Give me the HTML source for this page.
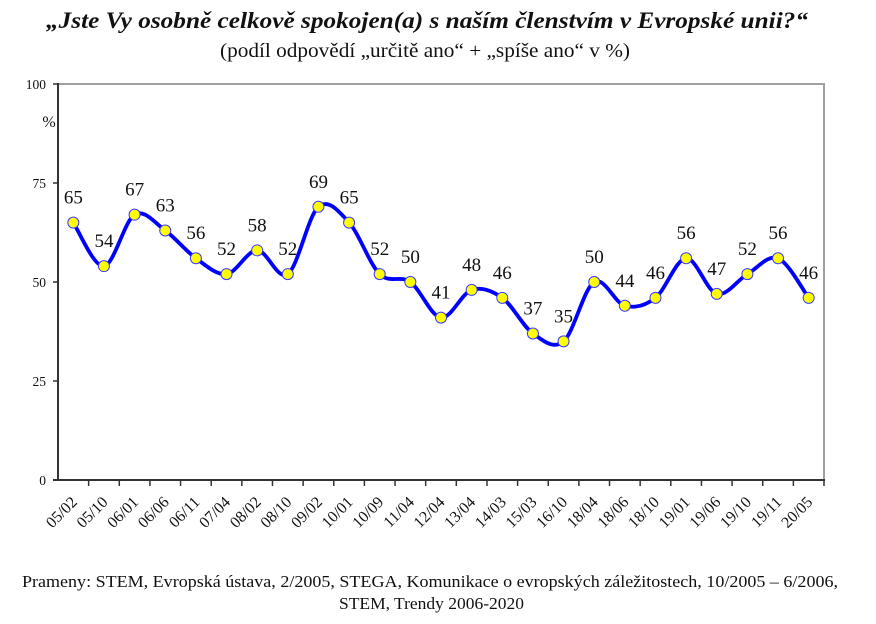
<!DOCTYPE html>
<html>
<head>
<meta charset="utf-8">
<style>
html,body{margin:0;padding:0;background:#fff;}
svg{display:block;}
text{font-family:"Liberation Serif","Times New Roman",serif;fill:#111;}
</style>
</head>
<body>
<svg width="876" height="624" viewBox="0 0 876 624" xmlns="http://www.w3.org/2000/svg">
<rect x="0" y="0" width="876" height="624" fill="#fff"/>
<!-- Title -->
<text x="46" y="28" font-size="23" font-weight="bold" font-style="italic" textLength="762" lengthAdjust="spacingAndGlyphs">„Jste Vy osobně celkově spokojen(a) s naším členstvím v Evropské unii?“</text>
<text x="220" y="57" font-size="20" textLength="410" lengthAdjust="spacingAndGlyphs">(podíl odpovědí „určitě ano“ + „spíše ano“ v %)</text>

<!-- Plot frame -->
<polyline points="58,84 824,84 824,480" fill="none" stroke="#a0a0a0" stroke-width="2"/>
<line x1="58" y1="83" x2="58" y2="481" stroke="#333" stroke-width="2"/>
<line x1="53" y1="480" x2="825" y2="480" stroke="#333" stroke-width="2"/>

<!-- Y ticks -->
<g stroke="#333" stroke-width="1.5">
<line x1="53" y1="84" x2="58" y2="84"/>
<line x1="53" y1="183" x2="58" y2="183"/>
<line x1="53" y1="282" x2="58" y2="282"/>
<line x1="53" y1="381" x2="58" y2="381"/>
</g>
<g font-size="13.5" text-anchor="end">
<text x="46" y="89">100</text>
<text x="46" y="188">75</text>
<text x="46" y="287">50</text>
<text x="46" y="386">25</text>
<text x="46" y="485">0</text>
</g>
<text x="49" y="127" font-size="16" text-anchor="middle">%</text>

<!-- X ticks -->
<g stroke="#333" stroke-width="1.5">
<line x1="88.64" y1="480" x2="88.64" y2="486"/>
<line x1="119.28" y1="480" x2="119.28" y2="486"/>
<line x1="149.92" y1="480" x2="149.92" y2="486"/>
<line x1="180.56" y1="480" x2="180.56" y2="486"/>
<line x1="211.2" y1="480" x2="211.2" y2="486"/>
<line x1="241.84" y1="480" x2="241.84" y2="486"/>
<line x1="272.48" y1="480" x2="272.48" y2="486"/>
<line x1="303.12" y1="480" x2="303.12" y2="486"/>
<line x1="333.76" y1="480" x2="333.76" y2="486"/>
<line x1="364.4" y1="480" x2="364.4" y2="486"/>
<line x1="395.04" y1="480" x2="395.04" y2="486"/>
<line x1="425.68" y1="480" x2="425.68" y2="486"/>
<line x1="456.32" y1="480" x2="456.32" y2="486"/>
<line x1="486.96" y1="480" x2="486.96" y2="486"/>
<line x1="517.6" y1="480" x2="517.6" y2="486"/>
<line x1="548.24" y1="480" x2="548.24" y2="486"/>
<line x1="578.88" y1="480" x2="578.88" y2="486"/>
<line x1="609.52" y1="480" x2="609.52" y2="486"/>
<line x1="640.16" y1="480" x2="640.16" y2="486"/>
<line x1="670.8" y1="480" x2="670.8" y2="486"/>
<line x1="701.44" y1="480" x2="701.44" y2="486"/>
<line x1="732.08" y1="480" x2="732.08" y2="486"/>
<line x1="762.72" y1="480" x2="762.72" y2="486"/>
<line x1="793.36" y1="480" x2="793.36" y2="486"/>
<line x1="824" y1="480" x2="824" y2="486"/>
</g>

<!-- X labels -->
<g font-size="16" text-anchor="end">
<text transform="translate(78.0,503) rotate(-45)">05/02</text>
<text transform="translate(108.7,503) rotate(-45)">05/10</text>
<text transform="translate(139.3,503) rotate(-45)">06/01</text>
<text transform="translate(169.9,503) rotate(-45)">06/06</text>
<text transform="translate(200.6,503) rotate(-45)">06/11</text>
<text transform="translate(231.2,503) rotate(-45)">07/04</text>
<text transform="translate(261.9,503) rotate(-45)">08/02</text>
<text transform="translate(292.5,503) rotate(-45)">08/10</text>
<text transform="translate(323.1,503) rotate(-45)">09/02</text>
<text transform="translate(353.8,503) rotate(-45)">10/01</text>
<text transform="translate(384.4,503) rotate(-45)">10/09</text>
<text transform="translate(415.1,503) rotate(-45)">11/04</text>
<text transform="translate(445.7,503) rotate(-45)">12/04</text>
<text transform="translate(476.3,503) rotate(-45)">13/04</text>
<text transform="translate(507.0,503) rotate(-45)">14/03</text>
<text transform="translate(537.6,503) rotate(-45)">15/03</text>
<text transform="translate(568.3,503) rotate(-45)">16/10</text>
<text transform="translate(598.9,503) rotate(-45)">18/04</text>
<text transform="translate(629.5,503) rotate(-45)">18/06</text>
<text transform="translate(660.2,503) rotate(-45)">18/10</text>
<text transform="translate(690.8,503) rotate(-45)">19/01</text>
<text transform="translate(721.5,503) rotate(-45)">19/06</text>
<text transform="translate(752.1,503) rotate(-45)">19/10</text>
<text transform="translate(782.7,503) rotate(-45)">19/11</text>
<text transform="translate(813.4,503) rotate(-45)">20/05</text>
</g>

<!-- Smoothed line -->
<path fill="none" stroke="#0000ff" stroke-width="3.8" stroke-linejoin="round" stroke-linecap="round"
d="M73.32,222.6
C78.43,229.86 93.75,267.48 103.96,266.16
C114.17,264.84 124.39,220.62 134.6,214.68
C144.81,208.74 155.03,223.26 165.24,230.52
C175.45,237.78 185.67,250.98 195.88,258.24
C206.09,265.5 216.31,275.4 226.52,274.08
C236.73,272.76 246.95,250.32 257.16,250.32
C267.37,250.32 277.59,281.34 287.8,274.08
C298.01,266.82 308.23,215.34 318.44,206.76
C328.65,198.18 338.87,211.38 349.08,222.6
C359.29,233.82 369.51,264.18 379.72,274.08
C389.93,283.98 400.15,274.74 410.36,282
C420.57,289.26 430.79,316.32 441.0,317.64
C451.21,318.96 461.43,293.22 471.64,289.92
C481.85,286.62 492.07,290.58 502.28,297.84
C512.49,305.1 522.71,326.22 532.92,333.48
C543.13,340.74 553.35,349.98 563.56,341.4
C573.77,332.82 583.99,287.94 594.2,282
C604.41,276.06 614.63,303.12 624.84,305.76
C635.05,308.4 645.27,305.76 655.48,297.84
C665.69,289.92 675.91,258.9 686.12,258.24
C696.33,257.58 706.55,291.24 716.76,293.88
C726.97,296.52 737.19,280.02 747.4,274.08
C757.61,268.14 767.83,254.28 778.04,258.24
C788.25,262.2 803.57,291.24 808.68,297.84"/>

<!-- Markers -->
<g fill="#ffff00" stroke="#3a3aff" stroke-width="1">
<circle cx="73.32" cy="222.6" r="5.5"/>
<circle cx="103.96" cy="266.16" r="5.5"/>
<circle cx="134.6" cy="214.68" r="5.5"/>
<circle cx="165.24" cy="230.52" r="5.5"/>
<circle cx="195.88" cy="258.24" r="5.5"/>
<circle cx="226.52" cy="274.08" r="5.5"/>
<circle cx="257.16" cy="250.32" r="5.5"/>
<circle cx="287.8" cy="274.08" r="5.5"/>
<circle cx="318.44" cy="206.76" r="5.5"/>
<circle cx="349.08" cy="222.6" r="5.5"/>
<circle cx="379.72" cy="274.08" r="5.5"/>
<circle cx="410.36" cy="282" r="5.5"/>
<circle cx="441.0" cy="317.64" r="5.5"/>
<circle cx="471.64" cy="289.92" r="5.5"/>
<circle cx="502.28" cy="297.84" r="5.5"/>
<circle cx="532.92" cy="333.48" r="5.5"/>
<circle cx="563.56" cy="341.4" r="5.5"/>
<circle cx="594.2" cy="282" r="5.5"/>
<circle cx="624.84" cy="305.76" r="5.5"/>
<circle cx="655.48" cy="297.84" r="5.5"/>
<circle cx="686.12" cy="258.24" r="5.5"/>
<circle cx="716.76" cy="293.88" r="5.5"/>
<circle cx="747.4" cy="274.08" r="5.5"/>
<circle cx="778.04" cy="258.24" r="5.5"/>
<circle cx="808.68" cy="297.84" r="5.5"/>
</g>

<!-- Data labels -->
<g font-size="19" text-anchor="middle">
<text x="73.32" y="203.6">65</text>
<text x="103.96" y="247.16">54</text>
<text x="134.6" y="195.68">67</text>
<text x="165.24" y="211.52">63</text>
<text x="195.88" y="239.24">56</text>
<text x="226.52" y="255.08">52</text>
<text x="257.16" y="231.32">58</text>
<text x="287.8" y="255.08">52</text>
<text x="318.44" y="187.76">69</text>
<text x="349.08" y="203.6">65</text>
<text x="379.72" y="255.08">52</text>
<text x="410.36" y="263">50</text>
<text x="441.0" y="298.64">41</text>
<text x="471.64" y="270.92">48</text>
<text x="502.28" y="278.84">46</text>
<text x="532.92" y="314.48">37</text>
<text x="563.56" y="322.4">35</text>
<text x="594.2" y="263">50</text>
<text x="624.84" y="286.76">44</text>
<text x="655.48" y="278.84">46</text>
<text x="686.12" y="239.24">56</text>
<text x="716.76" y="274.88">47</text>
<text x="747.4" y="255.08">52</text>
<text x="778.04" y="239.24">56</text>
<text x="808.68" y="278.84">46</text>
</g>

<!-- Footer -->
<text x="22" y="587" font-size="17" textLength="816" lengthAdjust="spacingAndGlyphs">Prameny: STEM, Evropská ústava, 2/2005, STEGA, Komunikace o evropských záležitostech, 10/2005 – 6/2006,</text>
<text x="339" y="609" font-size="17" textLength="185" lengthAdjust="spacingAndGlyphs">STEM, Trendy 2006-2020</text>
</svg>
</body>
</html>
